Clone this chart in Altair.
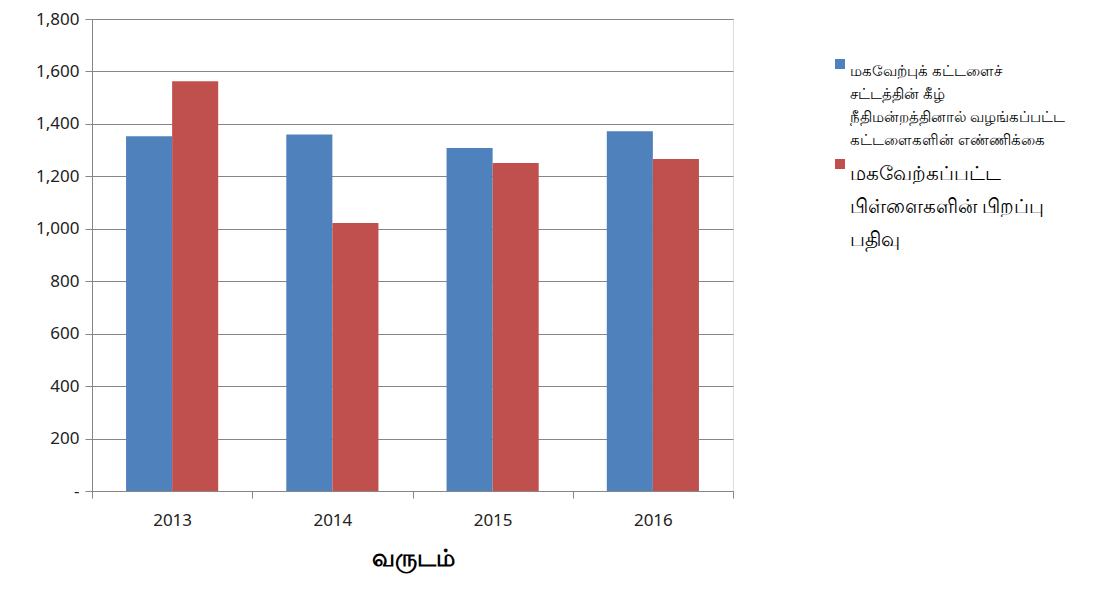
import altair as alt
import pandas as pd

years = ["2013", "2014", "2015", "2016"]
series_names = [
    "மகவேற்புக் கட்டளைச் சட்டத்தின் கீழ் நீதிமன்றத்தினால் வழங்கப்பட்ட கட்டளைகளின் எண்ணிக்கை",
    "மகவேற்கப்பட்ட பிள்ளைகளின் பிறப்பு பதிவு",
]
orders_values = [1353, 1360, 1308, 1372]
births_values = [1563, 1022, 1251, 1266]
colors = ["#4F81BD", "#C0504D"]

rows = []
for y, a, b in zip(years, orders_values, births_values):
    rows.append({"year": y, "series": series_names[0], "order": 0, "value": a})
    rows.append({"year": y, "series": series_names[1], "order": 1, "value": b})
df = pd.DataFrame(rows)

SP = "\u2002"
label_expr = (
    "datum.label == '" + series_names[0] + "' ? "
    "['" + SP + "மகவேற்புக் கட்டளைச்', 'சட்டத்தின் கீழ்', 'நீதிமன்றத்தினால் வழங்கப்பட்ட', 'கட்டளைகளின் எண்ணிக்கை'] : "
    "['" + SP + "மகவேற்கப்பட்ட', 'பிள்ளைகளின் பிறப்பு', 'பதிவு']"
)

chart = alt.Chart(df).mark_bar().encode(
    x=alt.X(
        "year:N",
        title="வருடம்",
        scale=alt.Scale(paddingInner=0, paddingOuter=0),
        axis=alt.Axis(
            labelAngle=0,
            labelFontSize=17,
            labelColor="#222222",
            labelPadding=14,
            titleFontSize=24,
            titleFontWeight="bold",
            titleColor="#000000",
            titlePadding=18,
            domainColor="#868686",
            tickColor="#868686",
            tickSize=7,
            tickBand="extent",
            grid=False,
        ),
    ),
    xOffset=alt.XOffset(
        "order:O",
        scale=alt.Scale(paddingInner=0, paddingOuter=0.739),
    ),
    y=alt.Y(
        "value:Q",
        title=None,
        scale=alt.Scale(domain=[0, 1800]),
        axis=alt.Axis(
            values=[0, 200, 400, 600, 800, 1000, 1200, 1400, 1600, 1800],
            labelExpr="datum.value == 0 ? '-' : format(datum.value, ',')",
            labelFontSize=17,
            labelColor="#222222",
            labelPadding=6,
            domainColor="#868686",
            tickColor="#868686",
            tickSize=7,
            gridColor="#868686",
            gridWidth=1,
        ),
    ),
    color=alt.Color(
        "series:N",
        scale=alt.Scale(domain=series_names, range=colors),
        legend=alt.Legend(
            title=None,
            orient="none",
            legendX=738,
            legendY=35,
            symbolType="square",
            symbolSize=100,
            symbolStrokeWidth=0,
            labelExpr=label_expr,
            labelFontSize=alt.ExprRef(expr="datum.index == 0 ? 15 : 20"),
            labelColor="#000000",
            labelLimit=300,
            labelOffset=0,
            rowPadding=6,
            labelBaseline="top",
        ),
    ),
).properties(
    width=641,
    height=472,
    autosize=alt.AutoSizeParams(type="none"),
    padding={"left": 84, "top": 11, "right": 364, "bottom": 85},
).configure_view(
    stroke=None
).configure(
    font="Noto Sans",
    style={"guide-label": {"lineHeight": {"expr": "datum.index == 0 ? 23 : 33"}}},
)

chart.save("out.html", embed_options={"renderer": "svg", "actions": False})
